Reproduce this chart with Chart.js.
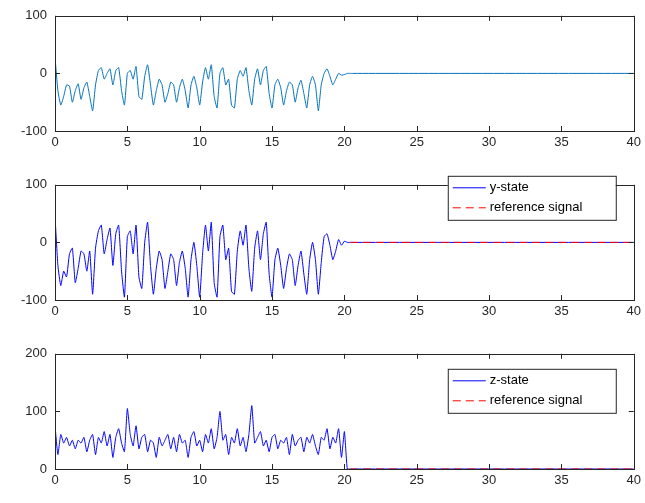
<!DOCTYPE html>
<html>
<head>
<meta charset="utf-8">
<script src="https://cdn.jsdelivr.net/npm/chart.js@4/dist/chart.umd.min.js"></script>
<style>
  body { margin: 0; background: #fff; }
  .plot { position: absolute; left: 0; width: 645px; height: 160px; }
</style>
</head>
<body>
<div class="plot" style="top:0px"><canvas id="c1"></canvas></div>
<div class="plot" style="top:169px"><canvas id="c2"></canvas></div>
<div class="plot" style="top:338px"><canvas id="c3"></canvas></div>
<script>
const time = [0,0.2,0.4,0.6,0.8,1,1.2,1.4,1.6,1.8,2,2.2,2.4,2.6,2.8,3,3.2,3.4,3.6,3.8,4,4.2,4.4,4.6,4.8,5,5.2,5.4,5.6,5.8,6,6.2,6.4,6.6,6.8,7,7.2,7.4,7.6,7.8,8,8.2,8.4,8.6,8.8,9,9.2,9.4,9.6,9.8,10,10.2,10.4,10.6,10.8,11,11.2,11.4,11.6,11.8,12,12.2,12.4,12.6,12.8,13,13.2,13.4,13.6,13.8,14,14.2,14.4,14.6,14.8,15,15.2,15.4,15.6,15.8,16,16.2,16.4,16.6,16.8,17,17.2,17.4,17.6,17.8,18,18.2,18.4,18.6,18.8,19,19.2,19.4,19.6,19.8,20,20.2,20.4,20.6,40];
const xState = [28,-30,-55,-40,-20,-22,-50,-30,-18,-45,-25,-15,-40,-65,-20,5,10,-10,0,8,-20,5,10,-30,-55,0,5,-10,12,-40,-45,-5,15,-20,-55,-30,-10,-20,-50,-35,-15,-20,-50,-25,-10,-30,-60,-20,-5,-25,-55,-15,10,-10,15,-40,-60,0,10,-20,-10,-55,-60,-10,5,-5,10,-30,-55,-10,8,-20,5,12,-35,-60,-20,-10,-25,-55,-30,-15,-20,-50,-25,-12,-35,-60,-20,-5,-20,-65,-20,0,8,-5,-20,-10,0,-3,-2,0,0,0,0];
const yState = [45,-40,-75,-50,-60,-20,-10,-70,-45,-15,-20,-50,-15,-90,-10,20,30,-20,5,25,-40,15,30,-50,-95,10,20,-20,30,-60,-80,0,35,-40,-90,-45,-15,-30,-80,-50,-20,-30,-75,-35,-15,-45,-95,-30,0,-40,-95,-20,30,-15,35,-70,-95,10,30,-30,-10,-85,-90,-15,20,-5,30,-45,-85,-10,20,-30,15,35,-55,-95,-30,-10,-40,-80,-45,-20,-30,-75,-40,-15,-55,-90,-30,0,-30,-90,-35,10,15,-5,-30,-15,5,-5,2,0,0,0,0];
const zState = [75,25,60,45,55,40,50,35,50,45,55,30,50,60,25,55,45,65,40,60,20,55,70,45,30,105,60,40,75,35,55,60,30,50,45,20,55,40,50,60,35,55,30,60,45,50,20,55,65,40,50,30,60,45,70,35,55,100,50,60,25,55,45,70,40,55,30,60,110,45,55,65,40,50,30,55,60,35,50,45,55,25,60,40,50,55,30,55,45,60,40,25,55,50,70,35,55,45,70,20,65,0,0,0,0];
const refSignal = [[20.4, 0], [40, 0]];
const xTicks = [0,5,10,15,20,25,30,35,40];
const yTicks1 = [-100,0,100];
const yTicks2 = [-100,0,100];
const yTicks3 = [0,100,200];

const font = { family: 'Liberation Sans, Arial, sans-serif', size: 13 };

const boxPlugin = {
  id: 'box',
  afterDraw(chart) {
    const ctx = chart.ctx, a = chart.chartArea;
    const xs = chart.scales.x, ys = chart.scales.y;
    ctx.save();
    ctx.strokeStyle = '#262626';
    ctx.lineWidth = 1;
    ctx.strokeRect(Math.round(a.left) + 0.5, Math.round(a.top) + 0.5, Math.round(a.width), Math.round(a.height));
    ctx.beginPath();
    xTicks.forEach(v => {
      const px = Math.round(xs.getPixelForValue(v)) + 0.5;
      ctx.moveTo(px, a.bottom); ctx.lineTo(px, a.bottom - 5);
      ctx.moveTo(px, a.top); ctx.lineTo(px, a.top + 5);
    });
    ys.ticks.forEach(t => {
      const py = Math.round(ys.getPixelForValue(t.value)) + 0.5;
      ctx.moveTo(a.left, py); ctx.lineTo(a.left + 5, py);
      ctx.moveTo(a.right, py); ctx.lineTo(a.right - 5, py);
    });
    ctx.stroke();
    const lg = chart.options.plugins.box.legend;
    if (lg) {
      const w = 168, h = 44, x0 = a.right - w - 18, y0 = a.top + lg.dy;
      ctx.fillStyle = '#fff';
      ctx.fillRect(x0, y0, w, h);
      ctx.strokeRect(x0 + 0.5, y0 + 0.5, w, h);
      ctx.font = '13px Liberation Sans, Arial, sans-serif';
      ctx.textBaseline = 'middle';
      chart.data.datasets.forEach((ds, i) => {
        const y = y0 + 12 + i * 20;
        ctx.beginPath();
        ctx.strokeStyle = ds.borderColor;
        ctx.setLineDash(ds.borderDash || []);
        ctx.moveTo(x0 + 5, y); ctx.lineTo(x0 + 38, y);
        ctx.stroke();
        ctx.setLineDash([]);
        ctx.fillStyle = '#000';
        ctx.fillText(ds.label, x0 + 42, y);
      });
    }
    ctx.restore();
  }
};

function pts(vals) { return vals.map((v, i) => ({ x: time[i], y: v })); }

function makeChart(id, datasets, yMin, yMax, yTicks, legend) {
  new Chart(document.getElementById(id), {
    type: 'line',
    data: { datasets },
    options: {
      responsive: true, maintainAspectRatio: false, animation: false,
      layout: { padding: { top: 14, right: 11 } },
      elements: { point: { radius: 0 }, line: { borderWidth: 1, tension: 0.15 } },
      plugins: { legend: { display: false }, tooltip: { enabled: false }, box: { legend } },
      scales: {
        x: {
          type: 'linear', min: 0, max: 40,
          afterBuildTicks: s => { s.ticks = xTicks.map(v => ({ value: v })); },
          afterFit: s => { s.height = 29; },
          grid: { display: false, drawTicks: false }, border: { display: false },
          ticks: { font, color: '#262626', padding: 4, maxRotation: 0 }
        },
        y: {
          min: yMin, max: yMax,
          afterBuildTicks: s => { s.ticks = yTicks.map(v => ({ value: v })); },
          afterFit: s => { s.width = 55; },
          grid: { display: false, drawTicks: false }, border: { display: false },
          ticks: { font, color: '#262626', padding: 8 }
        }
      }
    },
    plugins: [boxPlugin]
  });
}

makeChart('c1', [{ label: 'x-state', data: pts(xState), borderColor: '#0072BD' }], -100, 100, yTicks1, null);
makeChart('c2', [
  { label: 'y-state', data: pts(yState), borderColor: '#0000FF', order: 2 },
  { label: 'reference signal', data: refSignal, borderColor: '#FF0000', borderDash: [8, 5], order: 1 }
], -100, 100, yTicks2, { dy: -9 });
makeChart('c3', [
  { label: 'z-state', data: pts(zState), borderColor: '#0000FF', order: 2 },
  { label: 'reference signal', data: refSignal, borderColor: '#FF0000', borderDash: [8, 5], order: 1 }
], 0, 200, yTicks3, { dy: 15 });
</script>
</body>
</html>
